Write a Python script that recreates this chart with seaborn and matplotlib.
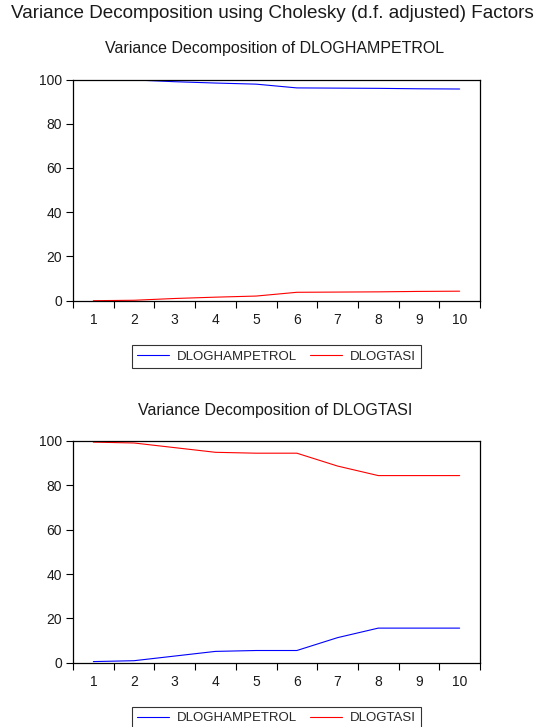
import matplotlib
matplotlib.use("Agg")
import matplotlib.pyplot as plt
import seaborn as sns
import pandas as pd
from matplotlib.ticker import FixedLocator, NullFormatter, FixedFormatter

periods = [1, 2, 3, 4, 5, 6, 7, 8, 9, 10]
series_names = ["DLOGHAMPETROL", "DLOGTASI"]

# Variance decomposition of DLOGHAMPETROL
petrol_by_petrol = [100.0, 99.8, 99.0, 98.4, 97.9, 96.2, 96.1, 96.0, 95.8, 95.7]
petrol_by_tasi = [0.0, 0.2, 1.0, 1.6, 2.1, 3.8, 3.9, 4.0, 4.2, 4.3]

# Variance decomposition of DLOGTASI
tasi_by_petrol = [0.5, 0.9, 3.0, 5.1, 5.5, 5.5, 11.3, 15.6, 15.6, 15.6]
tasi_by_tasi = [99.5, 99.1, 97.0, 94.9, 94.5, 94.5, 88.7, 84.4, 84.4, 84.4]

main_title = "Variance Decomposition using Cholesky (d.f. adjusted) Factors"
sub_titles = ["Variance Decomposition of DLOGHAMPETROL",
              "Variance Decomposition of DLOGTASI"]
y_ticks = [0, 20, 40, 60, 80, 100]

sns.set_theme(style="white")
plt.rcParams["font.family"] = ["Liberation Sans", "DejaVu Sans"]

fig = plt.figure(figsize=(5.43, 7.27), dpi=100)
W, H = 543, 727

def frac_axes(left, top, right, bottom):
    return fig.add_axes([left / W, 1 - bottom / H, (right - left) / W, (bottom - top) / H])

ax1 = frac_axes(73, 79.5, 480, 300.7)
ax2 = frac_axes(73, 441, 480, 662.7)

palette = {"DLOGHAMPETROL": "#0000ff", "DLOGTASI": "#ff0000"}

def make_df(a, b):
    return pd.DataFrame({
        "period": periods * 2,
        "value": a + b,
        "series": [series_names[0]] * len(periods) + [series_names[1]] * len(periods),
    })

datasets = [make_df(petrol_by_petrol, petrol_by_tasi), make_df(tasi_by_petrol, tasi_by_tasi)]

for ax, df, st, sty, legy in zip([ax1, ax2], datasets, sub_titles, [48, 411], [356.5, 718]):
    sns.lineplot(data=df, x="period", y="value", hue="series", palette=palette,
                 linewidth=0.8, ax=ax, legend=False)
    ax.set_xlim(0.5, 10.5)
    ax.set_ylim(0, 100)
    ax.set_xlabel("")
    ax.set_ylabel("")
    ax.set_yticks(y_ticks)
    ax.set_yticklabels([str(t) for t in y_ticks], fontsize=10, color="#1a1a1a")
    bounds = [p - 0.5 for p in periods] + [periods[-1] + 0.5]
    ax.xaxis.set_major_locator(FixedLocator(bounds))
    ax.xaxis.set_major_formatter(NullFormatter())
    ax.xaxis.set_minor_locator(FixedLocator(periods))
    ax.xaxis.set_minor_formatter(FixedFormatter([str(p) for p in periods]))
    ax.tick_params(axis="x", which="major", direction="out", length=5, width=0.8,
                   color="black", bottom=True)
    ax.tick_params(axis="x", which="minor", length=0, labelsize=10, pad=9,
                   labelcolor="#1a1a1a", bottom=True)
    ax.tick_params(axis="y", direction="out", length=5, width=0.8, color="black",
                   left=True, pad=3)
    for s in ax.spines.values():
        s.set_color("black")
        s.set_linewidth(0.9)
    fig.text(275 / W, 1 - sty / H, st, fontsize=11.5, color="#1a1a1a",
             ha="center", va="center")
    handles = [plt.Line2D([], [], color=palette[n], linewidth=0.8) for n in series_names]
    leg = ax.legend(handles, series_names, loc="center", ncol=2,
                    bbox_to_anchor=(276.5 / W, 1 - legy / H),
                    bbox_transform=fig.transFigure, fontsize=9.5, frameon=True,
                    fancybox=False, edgecolor="black", handlelength=2.4,
                    columnspacing=1.0, handletextpad=0.6, borderpad=0.4)
    leg.get_frame().set_linewidth(0.8)

fig.text(11 / W, 1 - 13 / H, main_title, fontsize=13.6, color="#1a1a1a",
         ha="left", va="center")

fig.savefig("out.png", dpi=100, facecolor="white")
